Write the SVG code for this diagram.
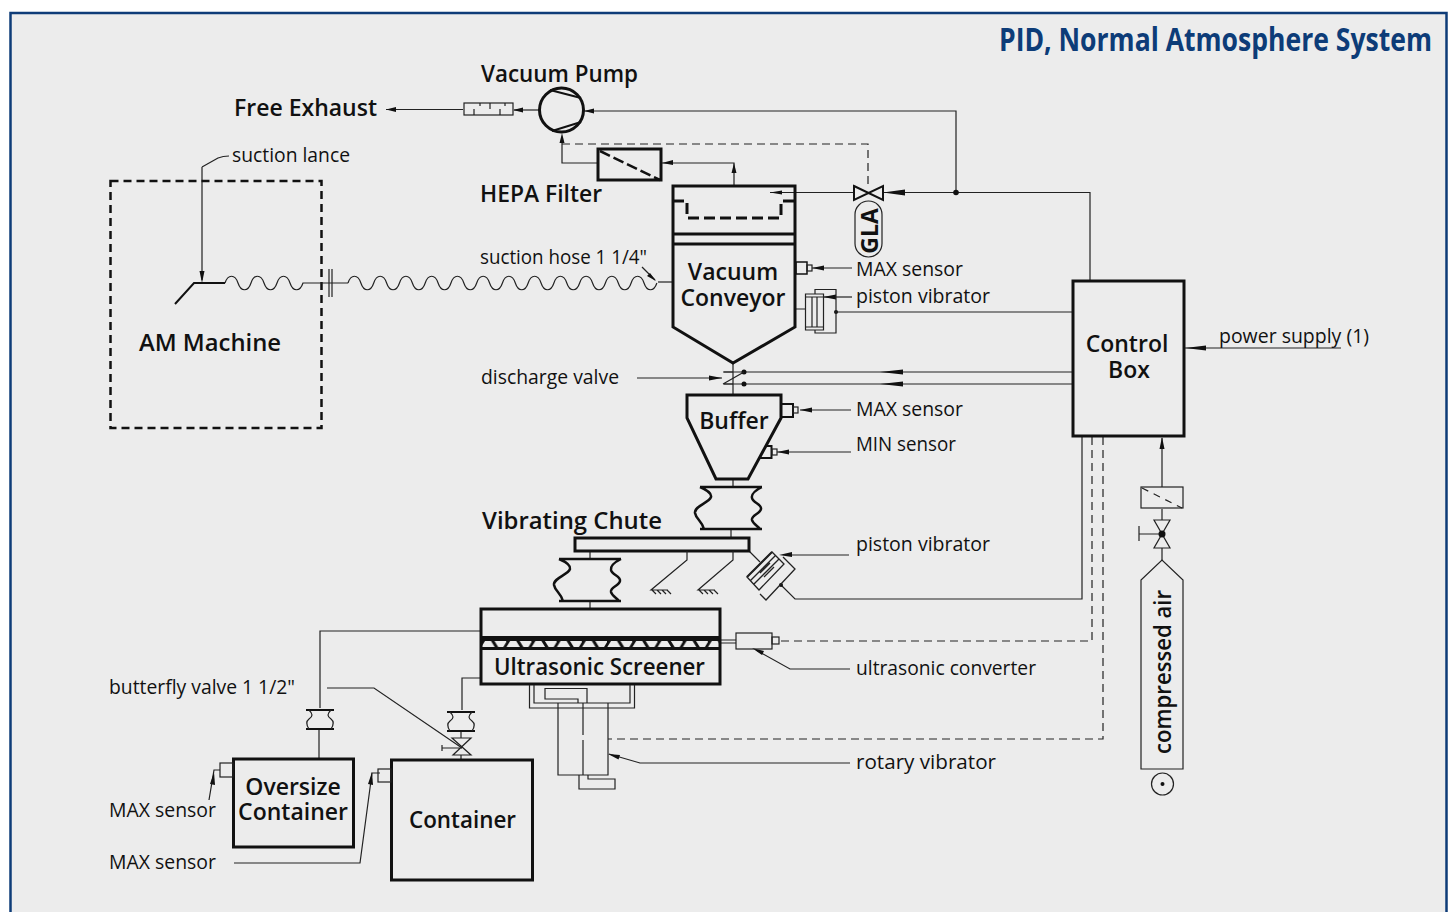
<svg xmlns="http://www.w3.org/2000/svg" width="1451" height="912" viewBox="0 0 1451 912">
<style>
text{font-family:"Open Sans","Noto Sans",sans-serif;fill:#111}
.t{font-size:19.500px}
.b{font-size:24px;font-weight:600}
.c{font-size:23px;font-weight:600}
.th{fill:none;stroke:#111;stroke-width:3}
.m{fill:none;stroke:#111;stroke-width:2}
.n{fill:none;stroke:#222;stroke-width:1.200}
.d{fill:none;stroke:#222;stroke-width:1.200;stroke-dasharray:8 5}
.k{fill:#111;stroke:none}
</style>
<defs>
<g id="bel"><path d="M-31 -21H31M-31 21H31M-31 -21C-24 -18 -19 -15 -20 -11C-22 -5 -37 -2 -36 5C-35 11 -29 13 -27 21M31 -21C25 -18 20 -14 21 -10C22 -5 31 -4 30 1C29 6 20 7 21 12C22 16 27 18 29 21" fill="none" stroke="#111" stroke-width="2.500"/></g>
<g id="bs"><path class="m" d="M-14 -9H14M-14 10H14"/><path class="n" d="M-11 -9C-7 -5 -7 -3 -11 0C-15 3 -13 7 -11 10M11 -9C7 -5 7 -3 11 0C15 3 13 7 11 10"/></g>
<pattern id="mesh" patternUnits="userSpaceOnUse" x="481" y="637" width="25.200" height="12"><rect width="25.200" height="12" fill="#111"/><path d="M0 10.500L4 4H10L14 10.500ZM13.500 4H26L22 10.500H17.500Z" fill="#ececec"/></pattern>
</defs>
<rect x="10.500" y="13" width="1436" height="920" fill="#ececec" stroke="#0e3c78" stroke-width="2.500"/>
<text transform="translate(1432 51) scale(.83 1)" text-anchor="end" font-size="32" font-weight="700" style="fill:#0d3c78">PID, Normal Atmosphere System</text>

<g id="connectors">
<path class="n" d="M386 109.500H463"/><path class="k" d="M386 109.500l10-2.500v5z"/>
<path class="n" d="M514 110H539"/><path class="k" d="M513 110l10-2.500v5z"/>
<path class="n" d="M584 111H956V192"/><path class="k" d="M584 111l10-2.500v5z"/>
<path class="n" d="M562 137V163H598M662 163H734V186"/>
<path class="k" d="M562 133l-2.500 10h5zM662 163l11-3v5zM734 163l-2.500 10h5z"/>
<path class="d" d="M562 144H868V186"/>
<path class="n" d="M770 192.500H854M883 192.500H1090V281"/>
<path class="k" d="M770 192.500l12-2v4zM883 192.500l22-3v6z"/>
<circle class="k" cx="956" cy="192.500" r="2.800"/>
<path class="n" d="M202 167V280M202 167L218 158Q223 156 229 156"/><path class="k" d="M202 283l-2.500-12h5z"/>
<path class="n" d="M642 267L655 280"/><path class="k" d="M656 281l-9-5 3-3z"/>
<path class="n" d="M658 282H672"/>
<path class="n" d="M852 268H812"/><path class="k" d="M812 268l12-2.500v5z"/>
<path class="n" d="M852 297H823"/><path class="k" d="M823 297l13-2.500v5z"/>
<path class="n" d="M795 309H805M836 312H1073"/><circle class="k" cx="836" cy="312" r="2"/>
<path class="n" d="M637 378H722"/><path class="k" d="M722 378l-13-2.500v5z"/>
<path class="n" d="M724 372H1073M724 384H1073"/>
<circle class="k" cx="744" cy="372" r="2.500"/><circle class="k" cx="744" cy="384" r="2.500"/>
<path class="k" d="M880 372l23-2.500v5zM880 384l23-2.500v5z"/>
<path class="n" d="M733 362V395M733 479V488M731 529V538M590 551V560M590 601V609"/>
<path class="n" d="M851 410H800"/><path class="k" d="M800 410l12-2.500v5z"/>
<path class="n" d="M851 452H777"/><path class="k" d="M777 452l12-2.500v5z"/>
<path class="n" d="M1185 348H1341"/><path class="k" d="M1185 348l21-2.500v5z"/>
<path class="n" d="M1162 438V487M1162 509V520M1162 548V560"/><path class="k" d="M1162 437l-2.500 12h5z"/>
<path class="n" d="M1082 437V599H795L781 585M749 551L760 562"/><circle class="k" cx="781" cy="585" r="2"/>
<path class="n" d="M849 555H789"/><path class="k" d="M779 555l13-3v5z"/>
<path class="d" d="M1092 437V641H780"/>
<path class="d" d="M1103 437V739H608"/>
<path class="n" d="M720 640H736M720 643H736"/>
<path class="n" d="M850 669H790L756 650"/><path class="k" d="M752 648l12 3-2 4z"/>
<path class="n" d="M850 763H640L609 754"/><path class="k" d="M608 754l12 1-1.500 4.500z"/>
<path class="n" d="M481 631H320V708M319 729V759M481 678H462V710M461 730V738M461 755V760"/>
<path class="n" d="M327 688H374L462 748"/>
<path class="n" d="M220 770H214L209 800"/><path class="k" d="M214 772l-4 12 5 1z"/>
<path class="n" d="M234 863H360L372 773H380"/><path class="k" d="M372 772l-4 12 5 1z"/>
</g>

<g id="machine">
<rect x="110.500" y="181" width="211" height="247" fill="none" stroke="#111" stroke-width="2.500" stroke-dasharray="8 5"/>
<text class="b" x="139" y="351" textLength="142" lengthAdjust="spacingAndGlyphs">AM Machine</text>
<path class="m" d="M175 304L194 283H225"/>
<path class="n" stroke-width="1.500" d="M225 283c3-9 10-9 13 0s10 9 13 0s10-9 13 0s10 9 13 0s10-9 13 0s10 9 13 0H348"/>
<path class="n" d="M329 269V297M332 269V297"/>
<path class="n" transform="translate(348 283) scale(.99 1)" d="M0 0c3-9 10-9 13 0s10 9 13 0s10-9 13 0s10 9 13 0s10-9 13 0s10 9 13 0s10-9 13 0s10 9 13 0s10-9 13 0s10 9 13 0s10-9 13 0s10 9 13 0s10-9 13 0s10 9 13 0s10-9 13 0s10 9 13 0s10-9 13 0s10 9 13 0s10-9 13 0s10 9 13 0s10-9 13 0s10 9 13 0s10-9 13 0s10 9 13 0"/>
</g>

<g id="vacuum-pump">
<text class="b" x="481" y="82" textLength="157" lengthAdjust="spacingAndGlyphs">Vacuum Pump</text>
<circle class="th" cx="561.500" cy="110" r="22"/>
<path class="m" d="M550 90L581 98M552 131L581 122"/>
<rect x="464" y="103" width="49" height="12" class="n" stroke-width="1.500"/>
<path class="n" d="M474 109V115M490 103V109M500 109V115M480 103V106M505 103V106"/>
</g>
<g id="free-exhaust"><text class="b" x="234" y="116" textLength="143" lengthAdjust="spacingAndGlyphs">Free Exhaust</text></g>
<g id="hepa">
<rect x="598" y="149" width="63" height="31" class="th"/>
<path d="M600 151L660 180" fill="none" stroke="#111" stroke-width="2.500" stroke-dasharray="11 4"/>
<text class="b" x="480" y="202" textLength="122" lengthAdjust="spacingAndGlyphs">HEPA Filter</text>
</g>
<g id="gla">
<path class="m" stroke-width="1.500" d="M854 186L883 200V186L854 200Z"/>
<rect x="855" y="201" width="27" height="56" rx="13.500" class="n" stroke-width="1.500"/>
<text x="868.500" y="231" font-size="23" font-weight="700" text-anchor="middle" transform="rotate(-90 868.500 231)" dominant-baseline="central">GLA</text>
</g>
<g id="vacuum-conveyor">
<path class="th" d="M673 186H795V327L733 363L673 327ZM673 234H795M673 244H795"/>
<path d="M673 201H687V218H781V201H795" fill="none" stroke="#111" stroke-width="3" stroke-dasharray="11 5"/>
<text class="c" text-anchor="middle"><tspan x="733" y="280">Vacuum</tspan><tspan x="733" y="306">Conveyor</tspan></text>
<rect x="796" y="262" width="11" height="12" fill="none" stroke="#111" stroke-width="1.500"/>
<rect x="807" y="265" width="5" height="6" class="n"/>
<path class="n" stroke-width="1.500" d="M805.500 294H823.500V330H805.500ZM815 294V289.500H836V333H815V330M805.500 297H823.500M805.500 327H823.500M812 297V327M817 297V327"/>
</g>
<g id="discharge-valve">
<path class="n" d="M723 372H733M723 384L744 372M723 384H733"/>
</g>
<g id="buffer">
<path class="th" d="M687 395H781V418L748 479H716L687 418Z"/>
<text class="c" x="734" y="429" text-anchor="middle">Buffer</text>
<rect x="781" y="404" width="12" height="13" fill="none" stroke="#111" stroke-width="2"/>
<rect x="793" y="407" width="5" height="6" class="n"/>
<path class="m" d="M765 446H771.500V458H759"/>
<rect x="772" y="449" width="5" height="6" class="n"/>
</g>
<g id="chute">
<use href="#bel" x="731" y="508"/>
<use href="#bel" x="590" y="580"/>
<rect x="575" y="538" width="174" height="13" class="th"/>
<text class="b" x="482" y="529" textLength="180" lengthAdjust="spacingAndGlyphs">Vibrating Chute</text>
<path class="n" stroke-width="1.500" d="M687 551V560L651 590H668M652 590l4 4M657 590l4 4M662 590l4 4M667 590l4 4"/>
<path class="n" stroke-width="1.500" d="M733 551V560L698 590H715M699 590l4 4M704 590l4 4M709 590l4 4M714 590l4 4"/>
<g fill="none" stroke="#222" stroke-width="1.300"><path d="M760 594L766 600L795 569L783 557M747 577L772 552L784 564L759 590ZM750.500 580.500L775.500 555.500M754 584L779 559M760 573L770 563M764 577L774 567"/><path d="M747 577L772 552" stroke-width="2"/></g>
</g>
<g id="screener">
<rect x="481" y="637" width="239" height="12" fill="url(#mesh)"/>
<path class="th" d="M481 609H720V684H481ZM481 637.500H720M481 648.500H720"/>
<text x="494" y="675" font-size="23.500" font-weight="600" textLength="211" lengthAdjust="spacingAndGlyphs">Ultrasonic Screener</text>
<rect x="736" y="633" width="36" height="16" class="n" stroke-width="1.500"/>
<rect x="772" y="637" width="7" height="7" class="n"/>
</g>
<g id="rotary-vibrator">
<path class="n" stroke-width="1.500" d="M529.500 685V708H634.500V685M534 685V703H630V685M558 703V775H608V703M583 703V735M583 740V775M545 688.500H587V703H578V699H545ZM579 775V789H615V779H588V775"/>
</g>
<g id="butterfly-bellows">
<use href="#bs" x="320" y="719"/>
<use href="#bs" x="461" y="721"/>
<path class="n" stroke-width="1.500" d="M452 738H471L453 755H471ZM442 745V751M442 748H462"/>
</g>
<g id="oversize"><rect x="233.500" y="759" width="120" height="88" class="th"/><text class="c" text-anchor="middle"><tspan x="293" y="795">Oversize</tspan><tspan x="293" y="820">Container</tspan></text><rect x="220" y="763" width="13" height="14" class="n" stroke-width="1.500"/></g>
<g id="container"><rect x="391.500" y="760" width="141" height="120" class="th"/><text class="b" x="409" y="828" textLength="107" lengthAdjust="spacingAndGlyphs">Container</text><rect x="378" y="769" width="13" height="13" class="n" stroke-width="1.500"/></g>
<g id="control-box"><rect x="1073" y="281" width="111" height="155" class="th" stroke-width="2.500"/><text class="c" text-anchor="middle"><tspan x="1127" y="352">Control</tspan><tspan x="1129" y="378">Box</tspan></text></g>
<g id="air">
<rect x="1141" y="487" width="42" height="21" class="n" stroke-width="1.500"/>
<path d="M1142 488L1182 508" class="n" stroke-dasharray="7 6"/>
<path class="n" d="M1154 520H1170L1154 548H1170ZM1139 526V541M1139 534H1162"/>
<circle class="k" cx="1162" cy="534" r="3.500"/>
<path class="n" d="M1141 769V580L1162 560L1183 580V769Z"/>
<text x="1162" y="672" font-size="23" font-weight="600" text-anchor="middle" dominant-baseline="central" transform="rotate(-90 1162 672)" textLength="164" lengthAdjust="spacingAndGlyphs">compressed air</text>
<circle class="n" cx="1162.500" cy="784" r="11"/><circle class="k" cx="1162.500" cy="784" r="2"/>
</g>
<g id="labels">
<text class="t" x="232" y="162" textLength="118" lengthAdjust="spacingAndGlyphs">suction lance</text>
<text class="t" x="480" y="264" textLength="167" lengthAdjust="spacingAndGlyphs">suction hose 1 1/4"</text>
<text class="t" x="856" y="276" textLength="107" lengthAdjust="spacingAndGlyphs">MAX sensor</text>
<text class="t" x="856" y="303" textLength="134" lengthAdjust="spacingAndGlyphs">piston vibrator</text>
<text class="t" x="481" y="384" textLength="138" lengthAdjust="spacingAndGlyphs">discharge valve</text>
<text class="t" x="856" y="416" textLength="107" lengthAdjust="spacingAndGlyphs">MAX sensor</text>
<text class="t" x="856" y="451" textLength="100" lengthAdjust="spacingAndGlyphs">MIN sensor</text>
<text class="t" x="856" y="551" textLength="134" lengthAdjust="spacingAndGlyphs">piston vibrator</text>
<text class="t" x="856" y="675" textLength="180" lengthAdjust="spacingAndGlyphs">ultrasonic converter</text>
<text class="t" x="856" y="769" textLength="140" lengthAdjust="spacingAndGlyphs">rotary vibrator</text>
<text class="t" x="1219" y="343" textLength="150" lengthAdjust="spacingAndGlyphs">power supply (1)</text>
<text class="t" x="109" y="694" textLength="186" lengthAdjust="spacingAndGlyphs">butterfly valve 1 1/2"</text>
<text class="t" x="109" y="817" textLength="107" lengthAdjust="spacingAndGlyphs">MAX sensor</text>
<text class="t" x="109" y="869" textLength="107" lengthAdjust="spacingAndGlyphs">MAX sensor</text>
</g>
</svg>
